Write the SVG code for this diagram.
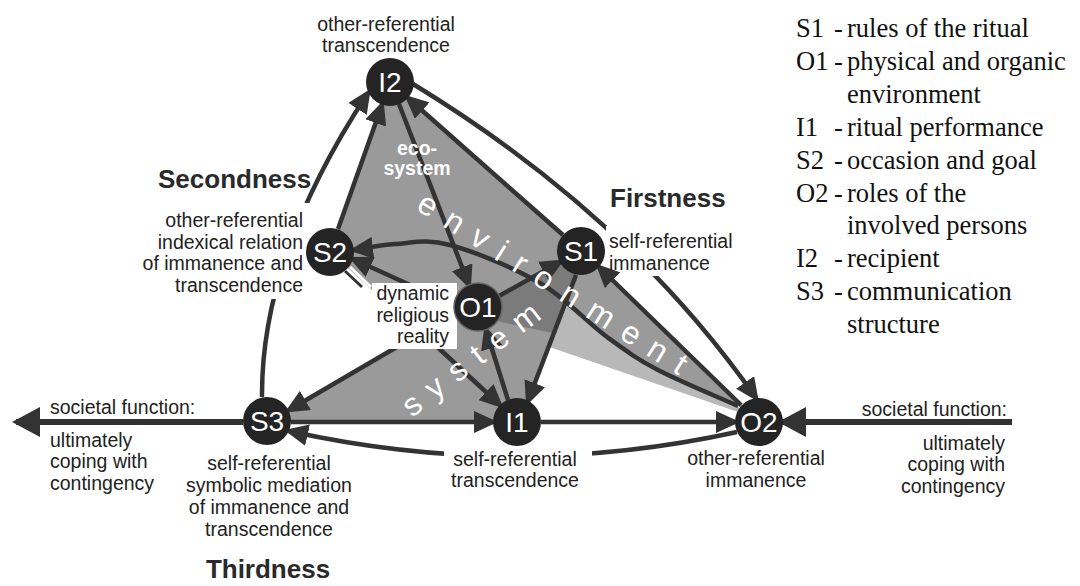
<svg xmlns="http://www.w3.org/2000/svg" width="1080" height="586" viewBox="0 0 1080 586">
<defs>
<style>
.lbl{font-family:"Liberation Sans",Arial,sans-serif;font-size:19.5px;fill:#222}
.hd{font-family:"Liberation Sans",Arial,sans-serif;font-size:26px;font-weight:bold;fill:#2a2a2a}
.leg{font-family:"Liberation Serif","Times New Roman",serif;font-size:26.5px;fill:#111}
.nd circle{fill:#242424}
.nd text{font-family:"Liberation Sans",Arial,sans-serif;font-size:28px;fill:#fff;text-anchor:middle}
.ln{fill:none;stroke:#333;stroke-width:4.5;marker-end:url(#ah)}
.ax{fill:none;stroke:#333;stroke-width:6;marker-end:url(#ahb)}
.wt{font-family:"Liberation Sans",Arial,sans-serif;fill:#fff}
.bg{fill:#fff}
</style>
<marker id="ah" markerUnits="userSpaceOnUse" markerWidth="24" markerHeight="22" viewBox="0 0 24 22" refX="19" refY="11" orient="auto"><path d="M0,0 L24,11 L0,22 Z" fill="#333"/></marker>
<marker id="ahb" markerUnits="userSpaceOnUse" markerWidth="28" markerHeight="30" viewBox="0 0 28 30" refX="24" refY="15" orient="auto"><path d="M0,0 L28,15 L0,30 Z" fill="#333"/></marker>
<mask id="m1"><rect width="1080" height="586" fill="#fff"/><rect x="606" y="226" width="130" height="50" fill="#000"/></mask>
</defs>
<rect width="1080" height="586" fill="#fff"/>

<g id="shading">
<polygon points="490,300 540,283 573,310 607,337 640,357 678,380 738,406 744,414 503,331" fill="#b8b8b8"/>
<polygon points="330,252 390,82 581,251 759,422 738,406 678,380 640,357 607,337 573,310 540,283 478,307 372,290 348,268" fill="#9a9a9a"/>
<polygon points="280,415 455,313 478,307 500,322 552,333 528,401 517,422 267,422" fill="#9a9a9a"/>
<polygon points="478,307 581,251 576,276 552,333 500,322" fill="#7b7b7b"/>
<line x1="350" y1="267" x2="371" y2="287" stroke="#fff" stroke-width="3"/>
<line x1="345" y1="271" x2="362" y2="287" stroke="#333" stroke-width="3"/>
</g>

<g id="connectors">
<path class="ax" d="M243 422 L16 422"/>
<path class="ax" d="M1012 422 L782 422"/>
<path class="ln" d="M291 422 L493 422"/>
<path class="ln" d="M541 422 L735 422"/>
<path class="ln" d="M737 432 Q514 481 289 431"/>
<path class="ln" d="M262 397 Q261 255 368 93"/>
<path class="ln" d="M338 229 L382 105"/>
<path class="ln" d="M399 104 L469 285"/>
<path class="ln" d="M563 235 L408 98"/>
<path class="ln" d="M413 84 Q628 215 756 398" mask="url(#m1)"/>
<path class="ln" d="M741 405 L599 267"/>
<path class="ln" d="M738 406 C725 400 680 381.5 658 370 C636.5 358.5 627 351.5 607 337 C587 322.5 566.2 298.3 540 283 C513.8 267.7 474.2 251.5 450 245 C425.8 238.5 410.7 243.2 395 244 C379.3 244.8 362.5 249 354 250"/>
<path class="ln" d="M454 305 L353 259"/>
<path class="ln" d="M455 313 L289 410"/>
<path class="ln" d="M405 317 L500 405"/>
<path class="ln" d="M508 400 L486 330"/>
<path class="ln" d="M576 275 L528 401"/>
<path class="ln" d="M499 296 L560 262"/>
</g>

<g id="label-backgrounds">
<rect class="bg" x="160" y="203" width="152" height="96"/>
<rect class="bg" x="372" y="283" width="85" height="66"/>
<rect class="bg" x="444" y="446" width="148" height="48"/>
</g>

<g id="inner-texts">
<text class="wt" font-size="19.5" font-weight="bold" text-anchor="middle"><tspan x="417" y="155">eco-</tspan><tspan x="417" y="175">system</tspan></text>
<text class="wt" font-size="32" letter-spacing="13.6" transform="translate(415,209) rotate(32.3)">environment</text>
<text class="wt" font-size="32" letter-spacing="12.7" transform="translate(412,418) rotate(-37.4)">system</text>
</g>

<g id="I2" class="nd"><circle cx="390" cy="82" r="24"/><text x="390" y="92">I2</text></g>
<g id="S2" class="nd"><circle cx="330" cy="252" r="24"/><text x="330" y="262">S2</text></g>
<g id="S1" class="nd"><circle cx="581" cy="251" r="24"/><text x="581" y="261">S1</text></g>
<g id="O1" class="nd"><circle cx="478" cy="307" r="24" stroke="#666" stroke-width="1.5"/><text x="478" y="317">O1</text></g>
<g id="S3" class="nd"><circle cx="267" cy="421" r="24"/><text x="267" y="431">S3</text></g>
<g id="I1" class="nd"><circle cx="517" cy="422" r="24"/><text x="517" y="432">I1</text></g>
<g id="O2" class="nd"><circle cx="759" cy="422" r="24"/><text x="759" y="432">O2</text></g>

<g id="labels">
<text class="lbl" text-anchor="middle"><tspan x="386" y="31">other-referential</tspan><tspan x="386" y="52">transcendence</tspan></text>
<text class="hd" x="158" y="188">Secondness</text>
<text class="lbl" text-anchor="end"><tspan x="303" y="227">other-referential</tspan><tspan x="303" y="249">indexical relation</tspan><tspan x="303" y="270">of immanence and</tspan><tspan x="303" y="292">transcendence</tspan></text>
<text class="hd" x="610" y="207">Firstness</text>
<text class="lbl"><tspan x="609" y="248">self-referential</tspan><tspan x="609" y="270">immanence</tspan></text>
<text class="lbl" text-anchor="end"><tspan x="449" y="300">dynamic</tspan><tspan x="449" y="322">religious</tspan><tspan x="449" y="343">reality</tspan></text>
<text class="lbl" x="50" y="414">societal function:</text>
<text class="lbl"><tspan x="50" y="447">ultimately</tspan><tspan x="50" y="468">coping with</tspan><tspan x="50" y="490">contingency</tspan></text>
<text class="lbl" text-anchor="middle"><tspan x="269" y="470">self-referential</tspan><tspan x="269" y="492">symbolic mediation</tspan><tspan x="269" y="514">of immanence and</tspan><tspan x="269" y="536">transcendence</tspan></text>
<text class="hd" x="268" y="578" text-anchor="middle">Thirdness</text>
<text class="lbl" text-anchor="middle"><tspan x="515" y="466">self-referential</tspan><tspan x="515" y="487">transcendence</tspan></text>
<text class="lbl" text-anchor="middle"><tspan x="756" y="465">other-referential</tspan><tspan x="756" y="487">immanence</tspan></text>
<text class="lbl" x="1007" y="416" text-anchor="end">societal function:</text>
<text class="lbl" text-anchor="end"><tspan x="1005" y="450">ultimately</tspan><tspan x="1005" y="471">coping with</tspan><tspan x="1005" y="493">contingency</tspan></text>
</g>

<g id="legend" class="leg">
<text x="796" y="37">S1</text><text x="834" y="37">-</text><text x="847" y="37">rules of the ritual</text>
<text x="796" y="70">O1</text><text x="834" y="70">-</text><text x="847" y="70">physical and organic</text>
<text x="847" y="103">environment</text>
<text x="796" y="136">I1</text><text x="834" y="136">-</text><text x="847" y="136">ritual performance</text>
<text x="796" y="169">S2</text><text x="834" y="169">-</text><text x="847" y="169">occasion and goal</text>
<text x="796" y="202">O2</text><text x="834" y="202">-</text><text x="847" y="202">roles of the</text>
<text x="847" y="234">involved persons</text>
<text x="796" y="267">I2</text><text x="834" y="267">-</text><text x="847" y="267">recipient</text>
<text x="796" y="300">S3</text><text x="834" y="300">-</text><text x="847" y="300">communication</text>
<text x="847" y="333">structure</text>
</g>
</svg>
